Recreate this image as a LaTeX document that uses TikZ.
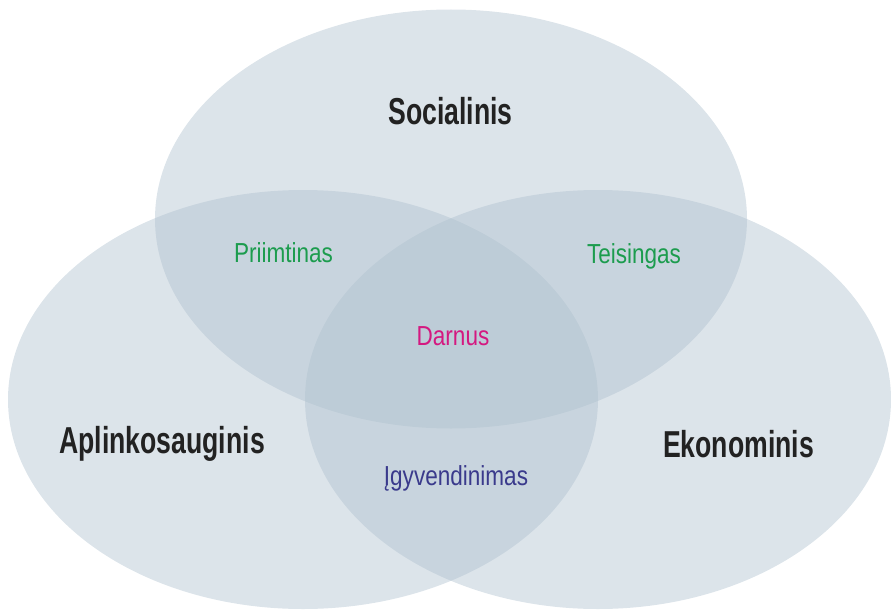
\documentclass[tikz,border=0pt]{standalone}
\usepackage{fontspec}
\setmainfont{Liberation Sans}
% condensed faces for the circle titles and the overlap labels
\newfontfamily\titlefont[FakeStretch=0.71]{Liberation Sans}
\newfontfamily\overlapfont[FakeStretch=0.82]{Liberation Sans}
\definecolor{setfill}{RGB}{174,192,206}
\definecolor{titlegray}{RGB}{34,34,34}
\definecolor{pairgreen}{RGB}{28,156,78}
\definecolor{coremagenta}{RGB}{212,24,128}
\definecolor{feasblue}{RGB}{58,58,140}
\tikzset{
  setarea/.style={fill=setfill, fill opacity=0.43, draw=none},
  settitle/.style={anchor=base, text=titlegray, font=\titlefont\bfseries\fontsize{37.5}{44}\selectfont, inner sep=0pt},
  overlaplabel/.style={anchor=base, font=\overlapfont\fontsize{27.5}{33}\selectfont, inner sep=0pt}
}
\begin{document}
\begin{tikzpicture}[x=1pt,y=-1pt]
  \useasboundingbox (0,0) rectangle (891,610);
  % the three sets
  \path[setarea] (451,219) ellipse [x radius=296, y radius=209.5];
  \path[setarea] (303,399.5) ellipse [x radius=295, y radius=209.5];
  \path[setarea] (598,399.5) ellipse [x radius=293, y radius=209.5];
  % set titles
  \node[settitle] (soc) at (450.5,124) {Socialinis};
  \node[settitle] (apl) at (162,453) {Aplinkosauginis};
  \node[settitle] (eko) at (738.5,457) {Ekonominis};
  % overlap labels
  \node[overlaplabel, text=pairgreen] (pri) at (283.5,262) {Priimtinas};
  \node[overlaplabel, text=pairgreen] (tei) at (634,263) {Teisingas};
  \node[overlaplabel, text=coremagenta] (dar) at (453,345) {Darnus};
  \node[overlaplabel, text=feasblue] (igy) at (456,485) {Įgyvendinimas};
\end{tikzpicture}
\end{document}
